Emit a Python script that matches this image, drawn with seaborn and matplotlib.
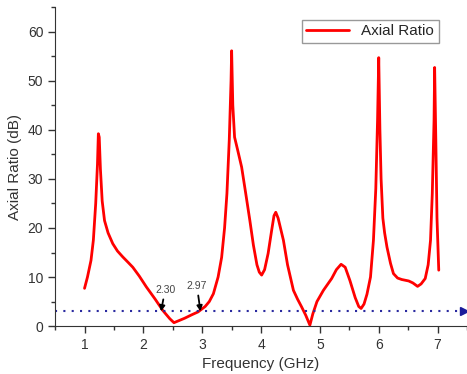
import numpy as np
import pandas as pd
import seaborn as sns
import matplotlib
matplotlib.use("Agg")
import matplotlib.pyplot as plt
from matplotlib.ticker import MultipleLocator

# axial ratio
freq = [1.00, 1.05, 1.11, 1.15, 1.19, 1.22, 1.235, 1.25, 1.27, 1.30, 1.34, 1.40,
        1.48, 1.56, 1.65, 1.74, 1.82, 1.93, 2.05, 2.20, 2.33, 2.45, 2.52, 2.60,
        2.70, 2.82, 2.93, 3.05, 3.12, 3.19, 3.27, 3.33, 3.38, 3.42, 3.46, 3.49,
        3.50, 3.52, 3.55, 3.60, 3.67, 3.74, 3.81, 3.87, 3.93, 3.97, 4.01, 4.06,
        4.12, 4.18, 4.22, 4.25, 4.29, 4.33, 4.38, 4.45, 4.55, 4.62, 4.69, 4.76,
        4.83, 4.88, 4.95, 5.06, 5.13, 5.20, 5.28, 5.36, 5.43, 5.51, 5.60, 5.66,
        5.70, 5.75, 5.80, 5.86, 5.91, 5.95, 5.98, 6.00, 6.02, 6.04, 6.07, 6.10,
        6.14, 6.20, 6.25, 6.32, 6.39, 6.51, 6.58, 6.66, 6.72, 6.79, 6.84, 6.88,
        6.91, 6.94, 6.95, 6.97, 6.99, 7.02]
axial_ratio = [7.7, 10.0, 13.4, 17.5, 25.0, 33.0, 39.2, 38.5, 32.0, 25.5, 21.5, 19.0,
               16.8, 15.3, 14.1, 13.0, 12.0, 10.2, 8.0, 5.5, 3.2, 1.5, 0.7, 1.1,
               1.6, 2.3, 2.9, 4.0, 5.0, 6.6, 10.0, 14.0, 20.0, 27.0, 38.0, 50.0,
               56.1, 45.0, 38.5, 36.0, 32.4, 27.0, 21.5, 16.5, 12.5, 11.0, 10.4, 11.5,
               14.8, 19.5, 22.5, 23.2, 22.0, 20.0, 17.5, 12.5, 7.3, 5.5, 3.9, 2.2,
               0.2, 2.5, 5.0, 7.3, 8.5, 9.7, 11.5, 12.6, 12.0, 9.3, 5.8, 4.0,
               3.6, 4.5, 6.5, 10.0, 17.5, 28.0, 42.0, 54.7, 40.0, 30.0, 22.0, 19.0,
               16.1, 12.8, 10.7, 9.8, 9.5, 9.2, 8.8, 8.1, 8.6, 9.7, 12.5, 17.5,
               27.0, 42.0, 52.7, 38.0, 22.0, 11.4]
threshold_db = 3
marker_labels = ["2.30", "2.97"]

df = pd.DataFrame({"Frequency (GHz)": freq, "Axial Ratio (dB)": axial_ratio})

sns.set_style("ticks")
plt.rcParams["font.family"] = ["Liberation Sans", "DejaVu Sans"]
plt.rcParams["axes.edgecolor"] = "#333333"
plt.rcParams["xtick.color"] = "#333333"
plt.rcParams["ytick.color"] = "#333333"

fig = plt.figure(figsize=(4.67, 3.74), dpi=100)
ax = fig.add_axes([0.118, 0.128, 0.882, 0.853])

sns.lineplot(data=df, x="Frequency (GHz)", y="Axial Ratio (dB)", color="red",
             linewidth=2, label="Axial Ratio", ax=ax)

# 3 dB reference line with arrow head
ax.plot([0.5, 7.42], [threshold_db, threshold_db], linestyle=(0, (1, 3)),
        color="#2a2aa0", linewidth=1.5)
ax.plot([7.45], [threshold_db], marker=">", color="#1a1a9a", markersize=6,
        clip_on=False)

# band edge annotations
ax.annotate(marker_labels[0], xy=(2.30, 3.0), xytext=(2.37, 6.8), fontsize=7.5,
            color="#444444", ha="center",
            arrowprops=dict(arrowstyle="-|>", color="black", lw=1.3,
                            mutation_scale=8, shrinkA=1, shrinkB=0))
ax.annotate(marker_labels[1], xy=(2.97, 3.0), xytext=(2.91, 7.6), fontsize=7.5,
            color="#444444", ha="center",
            arrowprops=dict(arrowstyle="-|>", color="black", lw=1.3,
                            mutation_scale=8, shrinkA=1, shrinkB=0))

ax.set_xlim(0.5, 7.5)
ax.set_ylim(0, 65)
ax.xaxis.set_major_locator(MultipleLocator(1))
ax.xaxis.set_minor_locator(MultipleLocator(0.5))
ax.yaxis.set_major_locator(MultipleLocator(10))
ax.yaxis.set_minor_locator(MultipleLocator(5))
ax.tick_params(which="major", length=5, width=1, labelsize=10, labelcolor="#333333")
ax.tick_params(which="minor", length=3, width=1)
ax.set_xlabel("Frequency (GHz)", fontsize=11, color="#333333")
ax.set_ylabel("Axial Ratio (dB)", fontsize=11, color="#333333")
sns.despine(ax=ax)

leg = ax.legend(loc="upper right", bbox_to_anchor=(0.95, 0.985), fontsize=11,
                fancybox=False, framealpha=1, edgecolor="#999999",
                handlelength=2.8, borderpad=0.3)

fig.savefig("out.png", dpi=100)
